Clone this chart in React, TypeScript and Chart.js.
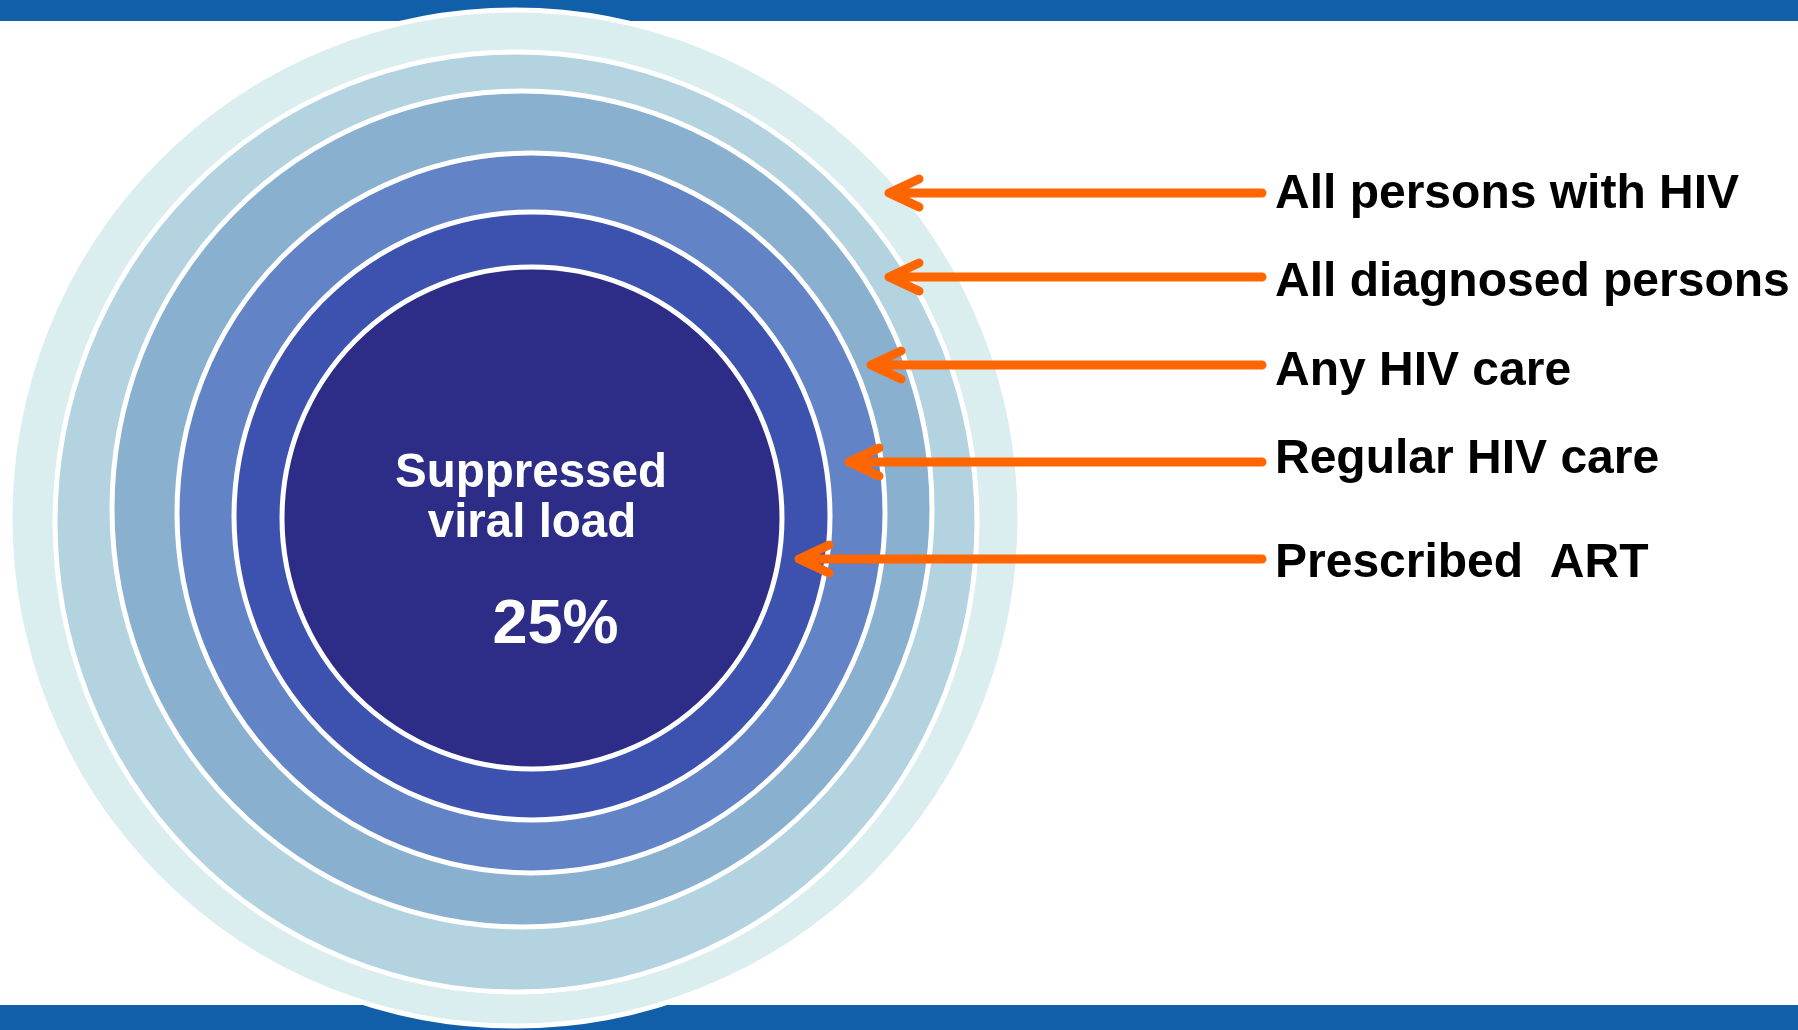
import React, { useEffect, useRef } from "react";
import { Chart, registerables } from "chart.js";

Chart.register(...registerables);

const W = 1798;
const H = 1030;

// Categories (outer ring -> inner ring)
const categories = [
  "All persons with HIV",
  "All diagnosed persons",
  "Any HIV care",
  "Regular HIV care",
  "Prescribed  ART",
];
const centerTitle = ["Suppressed", "viral load"];
const centerValue = "25%";

// Rings (outer -> inner), in chart units
const ringNames = [...categories, "Suppressed viral load"];
const ringRadiusX = [505, 461, 410, 354, 298, 250];
const ringRadiusY = [508, 470, 418, 360, 304, 251];
const ringCenterX = [515, 516, 522, 531, 532, 532];
const ringCenterY = [518, 522, 509, 513, 516, 518];
const ringColors = ["#DAEDEF", "#B3D3E0", "#8AB0D0", "#6283C5", "#3D52AF", "#2D2D87"];

// Arrows pointing to rings
const arrowY = [193, 277, 365, 462, 559];
const arrowTipX = [889, 889, 871, 849, 799];
const arrowTailX = 1262;
const arrowHeadDX = 30;
const arrowHeadDY = 14;

// Label layout
const labelX = 1275;
const labelBaselineY = [208, 296, 385, 473, 577];

const FONT = '"Liberation Sans", Arial, sans-serif';

const decorPlugin = {
  id: "decor",
  beforeDatasetsDraw(chart: any) {
    const { ctx } = chart;
    ctx.save();
    ctx.fillStyle = "#125FA9";
    ctx.fillRect(0, 0, W, 21);
    ctx.fillRect(0, 1005, W, H - 1005);
    ctx.restore();
  },
  beforeDatasetDraw(chart: any, args: any) {
    const ds = chart.data.datasets[args.index];
    if (ds.ringIndex === undefined) return;
    const i = ds.ringIndex;
    const xs = chart.scales.x;
    const ys = chart.scales.y;
    const cyPx = ys.getPixelForValue(ringCenterY[i]);
    const ryPx = Math.abs(ys.getPixelForValue(ringCenterY[i] + ringRadiusY[i]) - cyPx);
    const rxPx = Math.abs(xs.getPixelForValue(ringRadiusX[i]) - xs.getPixelForValue(0));
    const sy = rxPx > 0 ? ryPx / rxPx : 1;
    const ctx = chart.ctx;
    ctx.save();
    ctx.translate(0, cyPx);
    ctx.scale(1, sy);
    ctx.translate(0, -cyPx);
  },
  afterDatasetDraw(chart: any, args: any) {
    const ds = chart.data.datasets[args.index];
    if (ds.ringIndex === undefined) return;
    chart.ctx.restore();
  },
  afterDatasetsDraw(chart: any) {
    const { ctx } = chart;
    const xs = chart.scales.x;
    const ys = chart.scales.y;
    ctx.save();
    ctx.textAlign = "left";
    ctx.textBaseline = "alphabetic";
    ctx.fillStyle = "#000000";
    ctx.font = `bold 48px ${FONT}`;
    categories.forEach((c, i) => {
      ctx.fillText(c, xs.getPixelForValue(labelX), ys.getPixelForValue(labelBaselineY[i]));
    });
    ctx.fillStyle = "#FFFFFF";
    ctx.textAlign = "center";
    ctx.font = `bold 47.5px ${FONT}`;
    ctx.fillText(centerTitle[0], xs.getPixelForValue(531), ys.getPixelForValue(487));
    ctx.fillText(centerTitle[1], xs.getPixelForValue(532), ys.getPixelForValue(537));
    ctx.font = `bold 63px ${FONT}`;
    ctx.fillText(centerValue, xs.getPixelForValue(555.5), ys.getPixelForValue(643));
    ctx.restore();
  },
};

const ringRadiusPx = (ctx: any) => {
  const xs = ctx.chart.scales.x;
  const raw = ctx.raw;
  if (!xs || !raw) return 0;
  return Math.abs(xs.getPixelForValue(raw.size) - xs.getPixelForValue(0));
};

export default function App() {
  const ref = useRef<HTMLCanvasElement | null>(null);

  useEffect(() => {
    if (!ref.current) return;

    const ringSets = ringRadiusX.map((r, i) => ({
      type: "scatter" as const,
      label: ringNames[i],
      ringIndex: i,
      data: [{ x: ringCenterX[i], y: ringCenterY[i], size: r }],
      pointRadius: ringRadiusPx,
      pointHoverRadius: ringRadiusPx,
      pointBackgroundColor: ringColors[i],
      pointBorderColor: "#FFFFFF",
      pointBorderWidth: 5,
      pointHoverBorderWidth: 5,
      showLine: false,
      clip: false,
      order: 10 - i,
    }));

    const arrowSets = arrowY.map((y, i) => {
      const tip = arrowTipX[i];
      return {
        type: "scatter" as const,
        label: categories[i],
        data: [
          { x: tip + arrowHeadDX, y: y - arrowHeadDY },
          { x: tip, y },
          { x: tip + arrowHeadDX, y: y + arrowHeadDY },
          { x: tip, y },
          { x: arrowTailX, y },
        ],
        showLine: true,
        borderColor: "#FF6600",
        backgroundColor: "#FF6600",
        borderWidth: 9,
        borderCapStyle: "round" as const,
        borderJoinStyle: "round" as const,
        pointRadius: 0,
        pointHoverRadius: 0,
        tension: 0,
        order: 1,
      };
    });

    const chart = new Chart(ref.current, {
      type: "scatter",
      data: {
        datasets: [...ringSets, ...arrowSets] as any,
      },
      options: {
        animation: false,
        responsive: false,
        events: [],
        layout: { padding: 0 },
        plugins: {
          legend: { display: false },
          tooltip: { enabled: false },
          title: { display: false },
        },
        scales: {
          x: { type: "linear", min: 0, max: W, display: false },
          y: { type: "linear", min: 0, max: H, reverse: true, display: false },
        },
      },
      plugins: [decorPlugin],
    } as any);

    return () => chart.destroy();
  }, []);

  return (
    <div
      style={{
        position: "fixed",
        left: 0,
        top: 0,
        width: W,
        height: H,
        background: "#FFFFFF",
        overflow: "hidden",
      }}
    >
      <canvas ref={ref} width={W} height={H} style={{ display: "block", width: W, height: H }} />
    </div>
  );
}
